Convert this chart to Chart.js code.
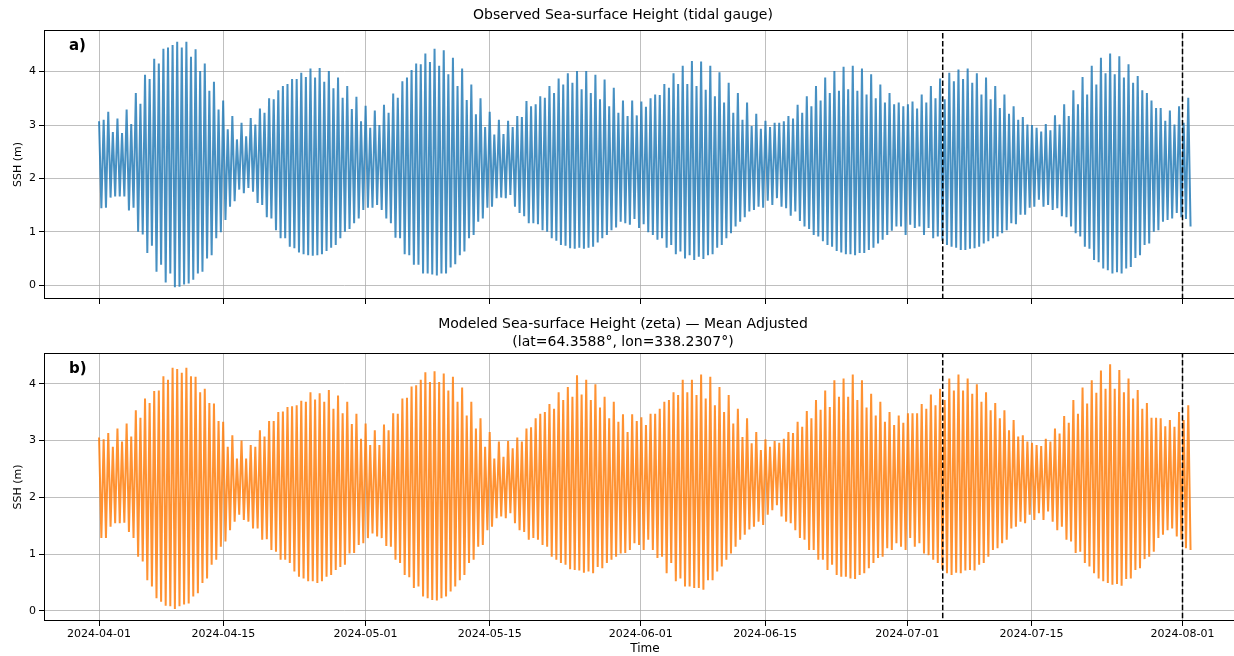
<!DOCTYPE html>
<html>
<head>
<meta charset="utf-8">
<script src="https://cdn.jsdelivr.net/npm/chart.js@4.4.1/dist/chart.umd.min.js"></script>
<style>
  html, body { margin: 0; background: #fff; overflow: hidden; }
  #wrap { position: relative; width: 1234px; height: 656px; overflow: hidden; }
  canvas { position: absolute; left: 0; }
  #chart_obs { top: 0; }
  #chart_mod { top: 310px; }
</style>
</head>
<body>
<div id="wrap">
  <canvas id="chart_obs" width="1246" height="310"></canvas>
  <canvas id="chart_mod" width="1246" height="346"></canvas>
</div>
<script>
// one high and one low water per semidiurnal cycle, first high at 2024-04-01 00:00
const tideHours = 12.42;

// observed (tidal gauge), metres
const obsHigh = [
  3.07,3.1,3.25,2.87,3.12,2.85,3.29,3.02,3.6,3.4,3.94,3.86,4.24,4.15,4.43,4.45,4.5,4.56,4.45,4.56,4.28,4.42,4.01,4.15,3.64,3.81,3.29,3.46,2.92,3.17,2.73,3.04,2.79,3.13,3.01,3.31,3.23,3.5,3.48,3.65,3.73,3.77,
  3.86,3.86,3.98,3.9,4.06,3.89,4.07,3.81,4.01,3.69,3.89,3.51,3.73,3.3,3.53,3.07,3.36,2.95,3.27,3.0,3.38,3.23,3.59,3.51,3.82,3.89,4.03,4.15,4.14,4.34,4.18,4.43,4.11,4.4,3.95,4.26,3.73,4.06,3.47,3.76,3.2,3.5,2.96,3.25,2.82,3.1,2.83,3.08,2.96,3.17,3.15,3.45,
  3.35,3.39,3.54,3.51,3.73,3.6,3.87,3.76,3.97,3.79,4.01,3.67,4.01,3.6,3.94,3.48,3.85,3.35,3.7,3.23,3.46,3.17,3.46,3.18,3.44,3.34,3.5,3.57,3.56,3.77,3.7,3.97,3.77,4.11,3.77,4.2,3.73,4.19,3.66,4.11,3.54,3.99,3.42,3.79,3.23,3.6,3.1,3.42,2.98,3.21,2.93,3.08,
  2.96,3.04,3.04,3.07,3.17,3.12,3.38,3.23,3.54,3.35,3.73,3.46,3.89,3.6,4.01,3.64,4.09,3.67,4.11,3.64,4.06,3.57,3.95,3.5,3.76,3.42,3.6,3.39,3.42,3.35,3.39,3.44,3.31,3.57,3.42,3.73,3.5,3.87,3.48,3.98,3.82,4.04,3.86,4.06,3.79,3.97,3.57,3.89,3.48,3.73,3.32,3.57,
  3.21,3.35,3.1,3.15,3.01,3.0,2.95,2.88,3.02,2.9,3.18,3.01,3.39,3.17,3.65,3.39,3.9,3.57,4.11,3.76,4.26,3.97,4.34,3.95,4.29,3.89,4.14,3.79,3.92,3.65,3.6,3.46,3.32,3.32,3.08,3.27,3.01,3.35,3.04,3.51
];
const obsLow = [
  1.44,1.45,1.64,1.66,1.66,1.66,1.4,1.45,1.0,0.95,0.6,0.74,0.25,0.38,0.05,0.22,-0.04,-0.03,0.01,0.03,0.1,0.22,0.25,0.5,0.56,0.88,0.99,1.22,1.47,1.57,1.79,1.72,1.82,1.75,1.54,1.5,1.27,1.25,1.03,0.88,0.88,0.72,
  0.69,0.61,0.58,0.56,0.55,0.56,0.58,0.64,0.7,0.75,0.88,1.0,1.05,1.16,1.25,1.41,1.45,1.45,1.5,1.41,1.25,1.16,0.89,0.88,0.58,0.56,0.38,0.38,0.22,0.22,0.2,0.18,0.22,0.22,0.33,0.39,0.56,0.63,0.88,0.94,1.19,1.25,1.45,1.47,1.63,1.64,1.63,1.69,1.47,1.35,1.29,1.16,
  1.16,1.14,1.03,1.0,0.88,0.83,0.75,0.74,0.69,0.68,0.7,0.68,0.7,0.72,0.8,0.88,0.94,1.03,1.08,1.19,1.16,1.13,1.24,1.07,1.14,0.99,0.94,0.85,0.88,0.7,0.75,0.58,0.63,0.5,0.56,0.47,0.53,0.49,0.56,0.58,0.7,0.75,0.88,0.97,1.1,1.19,1.27,1.38,1.41,1.47,1.45,1.58,
  1.5,1.63,1.47,1.44,1.3,1.38,1.2,1.1,1.05,0.94,0.91,0.82,0.75,0.72,0.64,0.61,0.58,0.58,0.56,0.6,0.6,0.66,0.7,0.78,0.85,0.94,1.02,1.1,1.1,0.94,1.13,1.07,1.1,0.94,1.07,0.88,0.91,0.83,0.75,0.72,0.7,0.66,0.66,0.68,0.69,0.72,0.78,0.82,0.88,0.91,0.97,1.03,
  1.16,1.14,1.32,1.32,1.45,1.47,1.6,1.47,1.5,1.41,1.44,1.29,1.27,1.1,0.97,0.91,0.72,0.68,0.47,0.43,0.31,0.28,0.22,0.24,0.22,0.31,0.34,0.51,0.56,0.75,0.78,1.0,1.03,1.19,1.22,1.25,1.35,1.27,1.24,1.1
];

// modelled zeta, mean adjusted, metres
const modHigh = [
  3.05,3.02,3.13,2.89,3.21,2.98,3.3,3.07,3.53,3.4,3.74,3.66,3.87,3.88,4.13,4.07,4.28,4.26,4.19,4.28,4.13,4.12,3.85,3.91,3.66,3.65,3.34,3.33,2.89,3.09,2.68,3.0,2.68,2.92,2.89,3.18,3.07,3.34,3.34,3.5,3.51,3.59,
  3.6,3.62,3.7,3.68,3.85,3.72,3.83,3.68,3.89,3.56,3.79,3.48,3.68,3.29,3.47,3.03,3.3,2.92,3.18,2.92,3.28,3.18,3.48,3.47,3.74,3.75,3.95,3.97,4.07,4.2,4.03,4.22,4.03,4.18,3.88,4.12,3.68,3.93,3.44,3.68,3.21,3.39,2.89,3.15,2.68,2.98,2.71,2.99,2.86,3.05,2.98,3.21,
  3.23,3.39,3.47,3.5,3.64,3.56,3.85,3.71,3.94,3.77,4.15,3.81,4.07,3.71,3.99,3.58,3.77,3.39,3.68,3.33,3.46,3.15,3.46,3.34,3.41,3.27,3.47,3.47,3.56,3.68,3.71,3.85,3.8,4.07,3.85,4.07,3.8,4.16,3.74,4.12,3.62,3.94,3.5,3.8,3.3,3.56,3.06,3.39,2.95,3.15,2.83,3.02,
  2.89,2.99,2.96,3.03,3.15,3.13,3.33,3.24,3.52,3.39,3.71,3.54,3.88,3.59,4.06,3.77,4.09,3.77,4.16,3.71,4.06,3.58,3.82,3.44,3.68,3.33,3.5,3.27,3.44,3.31,3.48,3.48,3.48,3.64,3.56,3.81,3.62,3.91,3.71,4.09,3.88,4.16,3.88,4.09,3.82,3.99,3.68,3.85,3.53,3.66,3.39,3.53,
  3.18,3.36,3.07,3.09,2.98,2.96,2.92,2.9,3.03,2.98,3.21,3.12,3.43,3.31,3.71,3.47,3.93,3.65,4.06,3.84,4.23,3.91,4.34,3.91,4.24,3.85,4.09,3.74,3.89,3.56,3.66,3.4,3.4,3.39,3.25,3.36,3.24,3.5,3.36,3.62
];
const modLow = [
  1.28,1.28,1.48,1.54,1.54,1.55,1.39,1.28,0.95,0.87,0.54,0.43,0.22,0.16,0.09,0.08,0.03,0.08,0.11,0.13,0.25,0.31,0.49,0.57,0.81,0.9,1.13,1.22,1.42,1.57,1.69,1.6,1.57,1.45,1.45,1.25,1.26,1.07,1.04,0.9,0.9,0.84,
  0.69,0.6,0.57,0.52,0.52,0.49,0.52,0.6,0.63,0.72,0.77,0.81,1.01,1.02,1.16,1.19,1.28,1.36,1.31,1.28,1.14,1.13,0.9,0.84,0.63,0.59,0.4,0.43,0.25,0.22,0.19,0.18,0.22,0.25,0.34,0.43,0.54,0.63,0.84,0.9,1.13,1.16,1.42,1.48,1.63,1.66,1.63,1.72,1.54,1.42,1.39,1.25,
  1.28,1.25,1.16,1.13,0.95,0.9,0.84,0.81,0.73,0.72,0.71,0.67,0.69,0.66,0.77,0.75,0.84,0.9,0.95,1.01,1.02,1.07,1.19,1.16,1.07,1.25,1.07,0.93,0.95,0.66,0.84,0.52,0.57,0.43,0.43,0.4,0.4,0.37,0.54,0.54,0.69,0.78,0.9,1.01,1.13,1.25,1.34,1.43,1.48,1.57,1.51,1.69,
  1.77,1.86,1.66,1.57,1.54,1.42,1.28,1.25,1.07,1.07,0.9,0.9,0.72,0.81,0.63,0.6,0.6,0.57,0.56,0.63,0.66,0.75,0.84,0.93,0.95,1.1,1.07,1.19,1.13,1.07,1.28,1.13,1.19,1.01,0.98,0.9,0.84,0.73,0.66,0.63,0.67,0.66,0.71,0.72,0.71,0.81,0.84,0.95,1.07,1.1,1.19,1.25,
  1.45,1.48,1.57,1.54,1.69,1.6,1.72,1.6,1.75,1.57,1.42,1.48,1.25,1.22,1.02,1.04,0.84,0.78,0.66,0.57,0.52,0.49,0.46,0.47,0.44,0.56,0.57,0.72,0.75,0.91,0.95,1.04,1.28,1.34,1.42,1.45,1.31,1.25,1.1,1.07
];

// x axis in days since 2024-04-01
const tickDays = [0, 14, 30, 44, 61, 75, 91, 105, 122];
const tickLabels = ['2024-04-01', '2024-04-15', '2024-05-01', '2024-05-15', '2024-06-01',
                    '2024-06-15', '2024-07-01', '2024-07-15', '2024-08-01'];
const yTicks = [0, 1, 2, 3, 4];
const markerDays = [95, 122];   // dashed lines: 2024-07-05 and 2024-08-01

const FONT = 'DejaVu Sans';

function toPoints(highs, lows) {
  const step = tideHours / 24;
  let pts = [];
  for (let i = 0; i < highs.length; i++) {
    pts.push({x: i * step, y: highs[i]});
    pts.push({x: i * step + step / 2, y: lows[i]});
  }
  return pts;
}

const framePlugin = {
  id: 'frame',
  afterDraw(chart, args, opts) {
    const {ctx, chartArea: a} = chart;
    ctx.save();
    ctx.strokeStyle = '#000';
    ctx.lineWidth = 1;
    ctx.strokeRect(a.left + 0.5, a.top + 0.5, a.right - a.left - 1, a.bottom - a.top - 1);
    ctx.font = 'bold 15px "' + FONT + '"';
    ctx.fillStyle = '#000';
    ctx.textBaseline = 'middle';
    ctx.fillText(opts.letter, a.left + 25, a.top + 16);
    ctx.restore();
  }
};

function makeChart(id, highs, lows, color, title, yMin, yMax, letter, isBottom) {
  const markers = markerDays.map(d => ({
    data: [{x: d, y: -5}, {x: d, y: 10}],
    borderColor: '#000',
    borderWidth: 1.5,
    borderDash: [5.5, 2.4],
    pointRadius: 0,
    order: 0
  }));

  return new Chart(document.getElementById(id), {
    type: 'line',
    data: {
      datasets: [{
        data: toPoints(highs, lows),
        borderColor: color,
        borderWidth: 2,
        pointRadius: 0,
        tension: 0,
        order: 1
      }].concat(markers)
    },
    plugins: [framePlugin],
    options: {
      responsive: false,
      animation: false,
      parsing: true,
      layout: { padding: 0 },
      scales: {
        x: {
          type: 'linear',
          min: -6.2,
          max: 129.15,
          afterBuildTicks: s => { s.ticks = tickDays.map(v => ({value: v})); },
          afterFit: s => { s.height = isBottom ? 35 : 11; },
          ticks: {
            display: isBottom,
            autoSkip: false,
            maxRotation: 0,
            padding: 2,
            color: '#000',
            font: { family: FONT, size: 11 },
            callback: (v, i) => tickLabels[i]
          },
          grid: { color: 'rgba(170,170,170,0.75)', tickColor: '#000', tickLength: 5 },
          border: { display: false },
          title: {
            display: isBottom,
            text: 'Time',
            color: '#000',
            font: { family: FONT, size: 12 },
            padding: { top: 0, bottom: 0 }
          }
        },
        y: {
          min: yMin,
          max: yMax,
          afterBuildTicks: s => { s.ticks = yTicks.map(v => ({value: v})); },
          afterFit: s => { s.width = 44; },
          ticks: {
            padding: 3,
            color: '#000',
            font: { family: FONT, size: 11 }
          },
          grid: { color: 'rgba(170,170,170,0.75)', tickColor: '#000', tickLength: 5 },
          border: { display: false },
          title: {
            display: true,
            text: 'SSH (m)',
            color: '#000',
            font: { family: FONT, size: 11 },
            padding: { top: 12, bottom: 0 }
          }
        }
      },
      plugins: {
        legend: { display: false },
        tooltip: { enabled: false },
        frame: { letter: letter },
        title: {
          display: true,
          text: title,
          color: '#000',
          font: { family: FONT, size: 14, weight: 'normal', lineHeight: isBottom ? 1.3 : 1.2 },
          padding: isBottom ? { top: 5, bottom: 1.6 } : { top: 6.6, bottom: 6.6 }
        }
      }
    }
  });
}

makeChart('chart_obs', obsHigh, obsLow, 'rgba(31,119,180,0.82)',
  'Observed Sea-surface Height (tidal gauge)', -0.26, 4.78, 'a)', false);
makeChart('chart_mod', modHigh, modLow, 'rgba(255,127,14,0.85)',
  ['Modeled Sea-surface Height (zeta) \u2014 Mean Adjusted', '(lat=64.3588\u00b0, lon=338.2307\u00b0)'],
  -0.18, 4.54, 'b)', true);
</script>
</body>
</html>
